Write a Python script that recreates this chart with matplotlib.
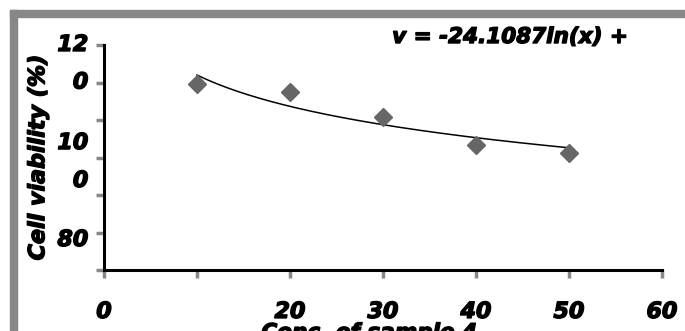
import numpy as np
import matplotlib.pyplot as plt
import matplotlib.patheffects as pe
from matplotlib.patches import Rectangle
from matplotlib import transforms

# data
conc = [10, 20, 30, 40, 50]
viability = [99.2, 94.9, 81.6, 66.7, 62.4]
trend_slope = -24.1087
trend_intercept = 159.5
x_ticks = [0, 10, 20, 30, 40, 50, 60]
x_tick_labels = ["0", "", "20", "30", "40", "50", "60"]
y_ticks = [0, 20, 40, 60, 80, 100, 120]
# the y labels are wrapped oddly in the original, keep them as drawn
y_label_text = ["12", "0", "10", "0", "80"]
y_label_pos = [120, 100, 67.7, 47.5, 16]

W, H = 685, 331
fig = plt.figure(figsize=(W / 100, H / 100), dpi=100)
fig.patch.set_facecolor("white")

# gray frame on top and left
fig.patches.append(Rectangle((10 / W, 1 - 17 / H), 1 - 10 / W, 7 / H,
                             transform=fig.transFigure, color="#888888", zorder=0))
fig.patches.append(Rectangle((10 / W, 0), 7 / W, 1 - 10 / H,
                             transform=fig.transFigure, color="#888888", zorder=0))

ax = fig.add_axes([104 / W, 1 - 270 / H, 558 / W, 225 / H])

font = dict(family="DejaVu Sans", weight="bold", style="italic")
heavy = [pe.withStroke(linewidth=1.0, foreground="black")]

ax.plot(conc, viability, linestyle="none", marker="D", markersize=9,
        color="#666666", zorder=3)

xs = np.linspace(min(conc), max(conc), 200)
ax.plot(xs, trend_slope * np.log(xs) + trend_intercept, color="black", lw=1.1, zorder=2)

ax.set_xlim(0, 60)
ax.set_ylim(0, 120)

for s in ["top", "right"]:
    ax.spines[s].set_visible(False)
for s in ["left", "bottom"]:
    ax.spines[s].set_linewidth(2.2)
    ax.spines[s].set_color("black")

ax.set_xticks(x_ticks)
ax.set_xticklabels(x_tick_labels, fontsize=16, path_effects=heavy, **font)
ax.set_yticks(y_ticks)
ax.set_yticklabels([""] * len(y_ticks))
ax.tick_params(axis="both", direction="out", length=6, width=2.5, color="#888888")
ax.tick_params(axis="x", pad=17)

trans = transforms.blended_transform_factory(ax.transAxes, ax.transData)
for txt, yv in zip(y_label_text, y_label_pos):
    ax.text(-0.028, yv, txt, transform=trans, ha="right", va="center",
            fontsize=16, path_effects=heavy, **font)

ax.set_ylabel("Cell viability (%)", fontsize=16, path_effects=heavy, **font)
ax.yaxis.set_label_coords(-0.1, 0.5)
ax.set_xlabel("Conc. of sample 4", fontsize=15.5, path_effects=heavy, **font)
ax.xaxis.set_label_coords(0.475, -0.235)

fig.text(510 / W, 1 - 37 / H, "v = -24.1087ln(x) +", ha="center", va="center",
         fontsize=15.5, path_effects=heavy, **font)

fig.savefig("out.png", dpi=100)
